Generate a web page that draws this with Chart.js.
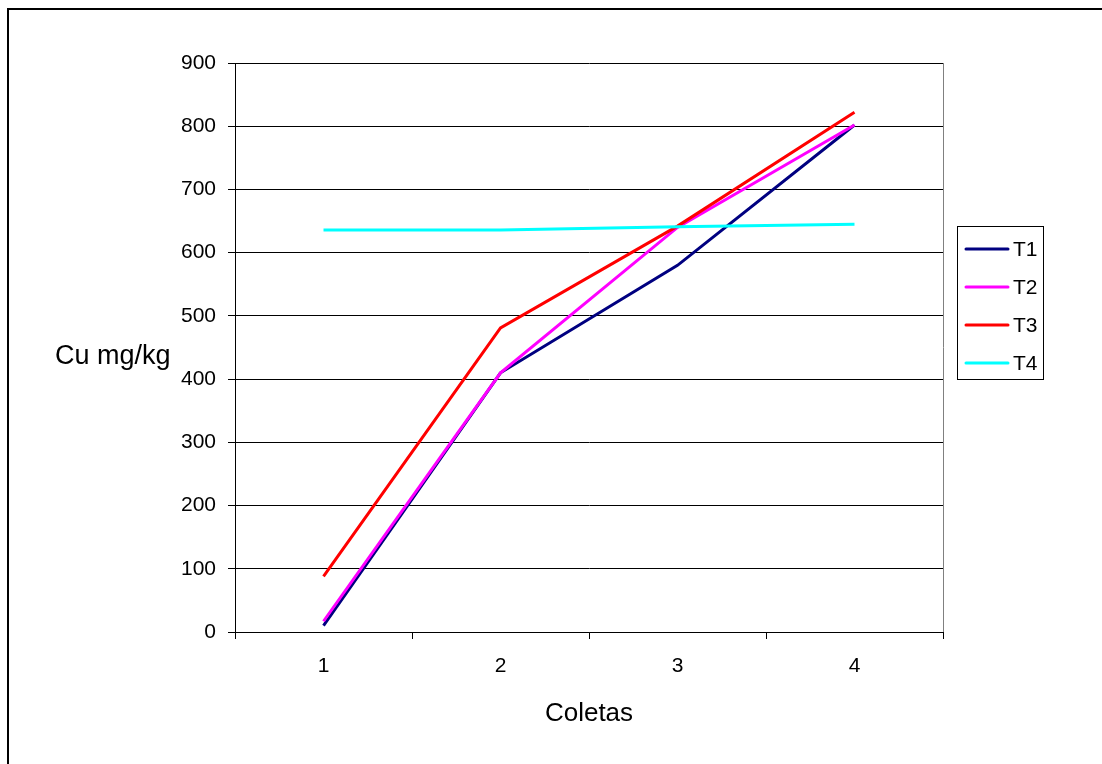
<!DOCTYPE html>
<html>
<head>
<meta charset="utf-8">
<script src="https://cdn.jsdelivr.net/npm/chart.js@4"></script>
<style>
  html, body { margin: 0; padding: 0; background: #fff; }
  #wrap { width: 1102px; height: 764px; position: relative; }
</style>
</head>
<body>
<div id="wrap"><canvas id="c" width="1102" height="764"></canvas></div>
<script>
// Collection rounds and copper concentrations per treatment
const coletas = ['1', '2', '3', '4'];
const t1 = [10, 410, 580, 802];
const t2 = [17, 410, 640, 802];
const t3 = [88, 481, 642, 822];
const t4 = [636, 636, 641, 645];
const seriesNames = ['T1', 'T2', 'T3', 'T4'];
const seriesColors = ['#000080', '#FF00FF', '#FF0000', '#00FFFF'];
const yTicks = [0, 100, 200, 300, 400, 500, 600, 700, 800, 900];

const FONT = '"Liberation Sans", Arial, sans-serif';

// Outer frame, plot border, axis titles and boxed legend
const decor = {
  id: 'decor',
  beforeDraw(chart) {
    const ctx = chart.ctx;
    ctx.save();
    ctx.fillStyle = '#fff';
    ctx.fillRect(0, 0, chart.width, chart.height);
    ctx.strokeStyle = '#000';
    ctx.lineWidth = 2;
    ctx.strokeRect(8, 9, chart.width + 20, chart.height + 20);
    ctx.restore();
  },
  afterDraw(chart) {
    const ctx = chart.ctx;
    const a = chart.chartArea;
    ctx.save();
    // right edge of plot area
    ctx.strokeStyle = '#808080';
    ctx.lineWidth = 1;
    ctx.beginPath();
    ctx.moveTo(Math.round(a.right) + 0.5, a.top);
    ctx.lineTo(Math.round(a.right) + 0.5, a.bottom);
    ctx.stroke();

    // axis titles
    ctx.fillStyle = '#000';
    ctx.textBaseline = 'middle';
    ctx.textAlign = 'left';
    ctx.font = '27px ' + FONT;
    ctx.fillText('Cu mg/kg', 55, 357);
    ctx.font = '26px ' + FONT;
    ctx.textAlign = 'center';
    ctx.fillText('Coletas', (a.left + a.right) / 2, 714);

    // legend
    const lx = 957, ly = 226, lw = 86, lh = 153;
    ctx.strokeStyle = '#000';
    ctx.lineWidth = 1;
    ctx.strokeRect(lx + 0.5, ly + 0.5, lw, lh);
    ctx.font = '21px ' + FONT;
    ctx.textAlign = 'left';
    chart.data.datasets.forEach((ds, i) => {
      const y = 249 + i * 38;
      ctx.strokeStyle = ds.borderColor;
      ctx.lineWidth = 3;
      ctx.lineCap = 'round';
      ctx.beginPath();
      ctx.moveTo(966, y);
      ctx.lineTo(1008, y);
      ctx.stroke();
      ctx.fillStyle = '#000';
      ctx.fillText(ds.label, 1013, y + 1);
    });
    ctx.restore();
  }
};

const values = [t1, t2, t3, t4];
const datasets = values.map((v, i) => ({
  label: seriesNames[i],
  data: v,
  borderColor: seriesColors[i],
  backgroundColor: seriesColors[i],
  borderWidth: 3,
  pointRadius: 0,
  pointHoverRadius: 0,
  tension: 0,
  fill: false,
  order: values.length - i
}));

new Chart(document.getElementById('c'), {
  type: 'line',
  data: { labels: coletas, datasets },
  options: {
    responsive: false,
    animation: false,
    events: [],
    layout: { padding: { left: 0, top: 63, right: 159, bottom: 0 } },
    plugins: { legend: { display: false }, title: { display: false }, tooltip: { enabled: false } },
    scales: {
      x: {
        type: 'category',
        offset: true,
        grid: {
          offset: true,
          drawOnChartArea: false,
          drawTicks: true,
          tickLength: 7,
          color: '#000',
          lineWidth: 1
        },
        border: { display: true, color: '#000', width: 1 },
        ticks: { color: '#000', font: { family: FONT, size: 21 }, padding: 15, maxRotation: 0 },
        afterFit(scale) { scale.height = 132; }
      },
      y: {
        min: 0,
        max: 900,
        afterBuildTicks(scale) { scale.ticks = yTicks.map(v => ({ value: v })); },
        grid: {
          drawOnChartArea: true,
          drawTicks: true,
          tickLength: 7,
          color: '#000',
          lineWidth: 1
        },
        border: { display: true, color: '#000', width: 1 },
        ticks: { color: '#000', font: { family: FONT, size: 21 }, padding: 12 },
        afterFit(scale) { scale.width = 235; }
      }
    }
  },
  plugins: [decor]
});
</script>
</body>
</html>
